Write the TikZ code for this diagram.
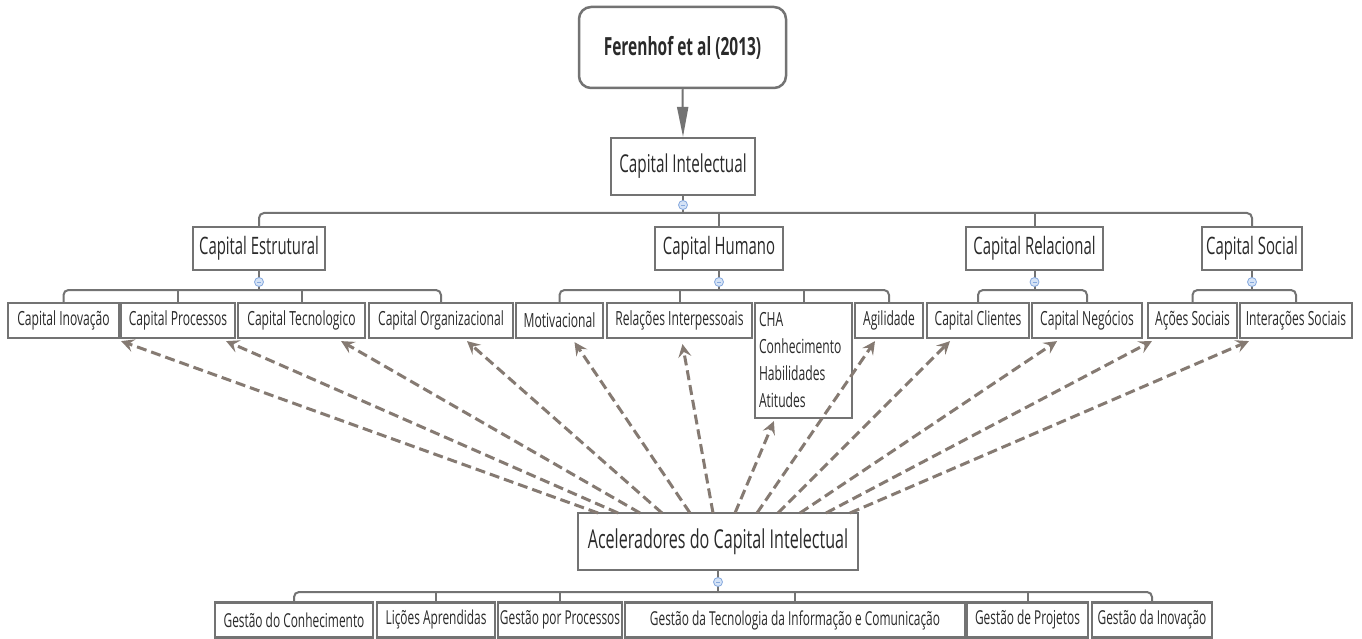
\documentclass[tikz,border=0pt]{standalone}
\usepackage{fontspec}
\setmainfont{Open Sans}[FakeStretch=0.62]
\usetikzlibrary{arrows.meta,calc}

\definecolor{boxline}{HTML}{737373}
\definecolor{txt}{HTML}{2A2A2A}
\definecolor{dashc}{HTML}{857A72}
\definecolor{knobfill}{HTML}{D5E3F6}
\definecolor{knobline}{HTML}{86A9DE}

\tikzset{
  basebox/.style={draw=boxline, line width=2.2pt, text=txt, inner sep=0pt},
  rootbox/.style={basebox, rounded corners=12pt, line width=2.5pt,
    minimum width=207pt, minimum height=81pt,
    font=\fontsize{25}{29}\selectfont\bfseries},
  topbox/.style={basebox, minimum height=57pt, font=\fontsize{24.6}{29}\selectfont},
  lvtwo/.style={basebox, minimum height=43pt, font=\fontsize{24}{28}\selectfont},
  lvthree/.style={basebox, minimum height=35pt, font=\fontsize{19.5}{23}\selectfont},
  leaf/.style={basebox, minimum height=35pt, font=\fontsize{19.2}{23}\selectfont},
  branch/.style={draw=boxline, line width=2pt, rounded corners=5pt},
  knob/.style={circle, draw=knobline, fill=knobfill, line width=0.8pt,
    minimum size=9pt, inner sep=0pt,
    path picture={\draw[knobline, line width=0.8pt]
      ([xshift=-2pt]path picture bounding box.center) --
      ([xshift=2pt]path picture bounding box.center);}},
  dasharrow/.style={draw=dashc, line width=3pt, dash pattern=on 10pt off 5pt,
    -{Stealth[length=13pt, width=13pt, inset=5pt]}},
}

\begin{document}
\begin{tikzpicture}[x=1pt, y=-1pt]
\useasboundingbox[fill=white] (0,0) rectangle (1362,639);

% root and first level
\node[rootbox] (fer) at (682.5,47.5) {Ferenhof et al (2013)};
\node[topbox, minimum width=144pt] (ci) at (683,166.5) {Capital Intelectual};
\draw[draw=boxline, line width=2pt, -{Triangle[length=30pt, width=11pt]}] (fer.south) -- (ci.north);

% four kinds of capital
\node[lvtwo, minimum width=132pt] (est) at (259,248.5) {Capital Estrutural};
\node[lvtwo, minimum width=128pt] (hum) at (719,248.5) {Capital Humano};
\node[lvtwo, minimum width=137pt] (relc) at (1034.5,248.5) {Capital Relacional};
\node[lvtwo, minimum width=100pt] (soc) at (1252,248.5) {Capital Social};

% components
\node[lvthree, minimum width=111pt] (inov) at (63.5,320.5) {Capital Inovação};
\node[lvthree, minimum width=114pt] (proc) at (178,320.5) {Capital Processos};
\node[lvthree, minimum width=127pt] (tec) at (301.5,320.5) {Capital Tecnologico};
\node[lvthree, minimum width=144pt] (org) at (441,320.5) {Capital Organizacional};
\node[lvthree, minimum width=87pt] (mot) at (559.5,320.5) {Motivacional};
\node[lvthree, minimum width=145pt] (rel) at (679.5,320.5) {Relações Interpessoais};
\node[lvthree, minimum width=97pt, minimum height=115pt, text width=89pt, align=left,
  font=\fontsize{19.5}{27}\selectfont] (cha) at (803.5,360.5)
  {CHA\\Conhecimento\\Habilidades\\Atitudes};
\node[lvthree, minimum width=68pt] (agi) at (889,320.5) {Agilidade};
\node[lvthree, minimum width=102pt] (cli) at (978,320.5) {Capital Clientes};
\node[lvthree, minimum width=110pt] (neg) at (1087,320.5) {Capital Negócios};
\node[lvthree, minimum width=89pt] (aco) at (1192.5,320.5) {Ações Sociais};
\node[lvthree, minimum width=112pt] (inte) at (1296,320.5) {Interações Sociais};

% accelerators
\node[topbox, minimum width=280pt, font=\fontsize{26}{30}\selectfont] (acc) at (718,541.5)
  {Aceleradores do Capital Intelectual};
\node[leaf, minimum width=158pt] (g1) at (294,620) {Gestão do Conhecimento};
\node[leaf, minimum width=118pt] (g2) at (436,620) {Lições Aprendidas};
\node[leaf, minimum width=124pt] (g3) at (560,620) {Gestão por Processos};
\node[leaf, minimum width=340pt] (g4) at (795,620) {Gestão da Tecnologia da Informação e Comunicação};
\node[leaf, minimum width=121pt] (g5) at (1027.5,620) {Gestão de Projetos};
\node[leaf, minimum width=120pt] (g6) at (1152,620) {Gestão da Inovação};

% bracket rails
\coordinate (railA) at (683,213);
\coordinate (railE) at (259,290);
\coordinate (railH) at (719,290);
\coordinate (railR) at (1034.5,290);
\coordinate (railS) at (1252,290);
\coordinate (railG) at (718,592);

% Capital Intelectual -> four kinds
\draw[branch] (ci.south) -- (railA);
\draw[branch] (est.north) -- (est.north |- railA) -- (soc.north |- railA) -- (soc.north);
\draw[branch] (hum.north) -- (hum.north |- railA);
\draw[branch] (relc.north) -- (relc.north |- railA);

% Estrutural
\draw[branch] (est.south) -- (railE);
\draw[branch] (inov.north) -- (inov.north |- railE) -- (org.north |- railE) -- (org.north);
\draw[branch] (proc.north) -- (proc.north |- railE);
\draw[branch] (tec.north) -- (tec.north |- railE);

% Humano
\draw[branch] (hum.south) -- (railH);
\draw[branch] (mot.north) -- (mot.north |- railH) -- (agi.north |- railH) -- (agi.north);
\draw[branch] (rel.north) -- (rel.north |- railH);
\draw[branch] (cha.north) -- (cha.north |- railH);

% Relacional
\draw[branch] (relc.south) -- (railR);
\draw[branch] (cli.north) -- (cli.north |- railR) -- (neg.north |- railR) -- (neg.north);

% Social
\draw[branch] (soc.south) -- (railS);
\draw[branch] (aco.north) -- (aco.north |- railS) -- (inte.north |- railS) -- (inte.north);

% Aceleradores
\draw[branch] (acc.south) -- (railG);
\draw[branch] (g1.north) -- (g1.north |- railG) -- (g6.north |- railG) -- (g6.north);
\draw[branch] (g2.north) -- (g2.north |- railG);
\draw[branch] (g3.north) -- (g3.north |- railG);
\draw[branch] (g4.north) -- (g4.north |- railG);
\draw[branch] (g5.north) -- (g5.north |- railG);

% collapse knobs
\node[knob] (kA) at (683,205) {};
\node[knob] (kE) at (259,282) {};
\node[knob] (kH) at (719,282) {};
\node[knob] (kR) at (1034.5,282) {};
\node[knob] (kS) at (1252,282) {};
\node[knob] (kG) at (718,582) {};

% accelerator links, leaving from the top edge of the accelerator box
\coordinate (s1) at (598,513);
\coordinate (s2) at (618,513);
\coordinate (s3) at (640,513);
\coordinate (s4) at (662,513);
\coordinate (s5) at (690,513);
\coordinate (s6) at (713,513);
\coordinate (s7) at (735,513);
\coordinate (s8) at (757,513);
\coordinate (s9) at (778,513);
\coordinate (s10) at (800,513);
\coordinate (s11) at (826,513);
\coordinate (s12) at (850,513);

\draw[dasharrow] (s1) -- ($(inov.south east)+(1,2)$);
\draw[dasharrow] (s2) -- ($(proc.south east)+(-10,2)$);
\draw[dasharrow] (s3) -- ($(tec.south east)+(-25,2)$);
\draw[dasharrow] (s4) -- ($(org.south)+(26,2)$);
\draw[dasharrow] (s5) -- ($(mot.south)+(15,3)$);
\draw[dasharrow] (s6) -- ($(rel.south)+(3,5)$);
\draw[dasharrow] (s7) -- ($(cha.south west)+(20,2)$);
\draw[dasharrow] (s8) -- ($(agi.south)+(-14,2)$);
\draw[dasharrow] (s9) -- ($(cli.south)+(-28,2)$);
\draw[dasharrow] (s10) -- ($(neg.south)+(-30,2)$);
\draw[dasharrow] (s11) -- ($(aco.south west)+(5,2)$);
\draw[dasharrow] (s12) -- ($(inte.south west)+(10,2)$);
\end{tikzpicture}
\end{document}
